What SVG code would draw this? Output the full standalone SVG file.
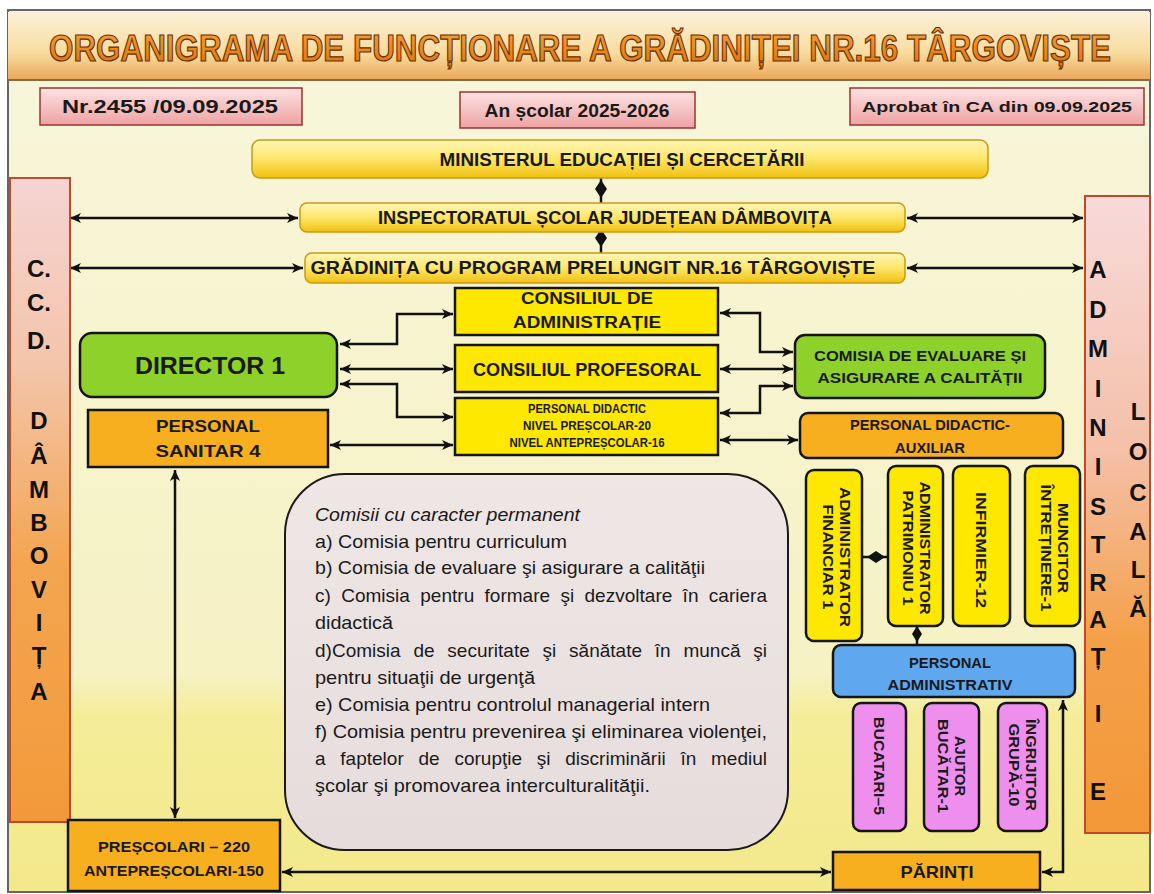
<svg xmlns="http://www.w3.org/2000/svg" width="1154" height="894" viewBox="0 0 1154 894">
<defs>
<linearGradient id="bg" x1="0" y1="0" x2="0" y2="1"><stop offset="0" stop-color="#f8f6dc"/><stop offset="0.75" stop-color="#f6f2c4"/><stop offset="0.8" stop-color="#f5ec9a"/><stop offset="1" stop-color="#f3e88a"/></linearGradient>
<linearGradient id="band" x1="0" y1="0" x2="0" y2="1"><stop offset="0" stop-color="#fbf1d8"/><stop offset="0.6" stop-color="#f8dca0"/><stop offset="1" stop-color="#eaa858"/></linearGradient>
<linearGradient id="hdr" x1="0" y1="0" x2="0" y2="1"><stop offset="0" stop-color="#fde2e2"/><stop offset="1" stop-color="#eea3a3"/></linearGradient>
<linearGradient id="bar" x1="0" y1="0" x2="0" y2="1"><stop offset="0" stop-color="#fff7b8"/><stop offset="0.5" stop-color="#fde66a"/><stop offset="1" stop-color="#f2c010"/></linearGradient>
<linearGradient id="side" x1="0" y1="0" x2="0" y2="1"><stop offset="0" stop-color="#f6d4d4"/><stop offset="0.3" stop-color="#f3c4a8"/><stop offset="0.6" stop-color="#f4a550"/><stop offset="1" stop-color="#f29a3a"/></linearGradient>
<linearGradient id="sideR" x1="0" y1="0" x2="0" y2="1"><stop offset="0" stop-color="#f8dada"/><stop offset="0.4" stop-color="#f4c0a8"/><stop offset="0.7" stop-color="#f4a048"/><stop offset="1" stop-color="#f29838"/></linearGradient>
<linearGradient id="com" x1="0" y1="0" x2="0" y2="1"><stop offset="0" stop-color="#efe6e6"/><stop offset="1" stop-color="#e6dcdc"/></linearGradient>
<linearGradient id="ttl" x1="0" y1="0" x2="0" y2="1"><stop offset="0" stop-color="#f6a640"/><stop offset="1" stop-color="#d8700e"/></linearGradient>
<marker id="ah" viewBox="0 0 12 12" refX="11" refY="6" markerWidth="12" markerHeight="12" markerUnits="userSpaceOnUse" orient="auto-start-reverse"><path d="M0,1 L11,6 L0,11 L3,6 z" fill="#111"/></marker>
<style>
.lbl{font-family:"Liberation Sans",Arial,sans-serif;font-weight:bold;fill:#1a1a1a;text-anchor:middle}
.side{font-family:"Liberation Sans",Arial,sans-serif;font-weight:bold;font-size:24px;fill:#111;text-anchor:middle}
.box{stroke:#151515;stroke-width:2.5}
.yel{fill:#ffe800}
.grn{fill:#8ed12b}
.org{fill:#f7ae1f}
.blu{fill:#5fa7ee}
.pnk{fill:#ee8fee}
.hdr{fill:url(#hdr);stroke:#a03030;stroke-width:1.5}
.bar{fill:url(#bar);stroke:#c99a10;stroke-width:1.5}
.con{fill:none;stroke:#111;stroke-width:2.5;marker-start:url(#ah);marker-end:url(#ah)}
.ln{fill:none;stroke:#111;stroke-width:2.5}
.txt{font-family:"Liberation Sans",Arial,sans-serif;font-size:19px;fill:#1a1a1a}
</style>
</defs>
<rect x="0" y="0" width="1154" height="894" fill="#ffffff"/>
<rect x="8" y="10" width="1142" height="882" fill="url(#bg)" stroke="#666" stroke-width="2"/>

<g id="title">
<rect x="8" y="12" width="1142" height="68" fill="url(#band)"/>
<line x1="8" y1="80" x2="1150" y2="80" stroke="#8a6a40" stroke-width="2"/>
<text transform="translate(580,61) scale(1,1.22)" x="0" y="0" font-family="Liberation Sans, Arial, sans-serif" font-weight="bold" font-size="31" fill="url(#ttl)" stroke="#6a2e00" stroke-width="1" text-anchor="middle" textLength="1062" lengthAdjust="spacingAndGlyphs">ORGANIGRAMA DE FUNCȚIONARE A GRĂDINIȚEI NR.16 TÂRGOVIȘTE</text>
</g>

<g id="hdr1"><rect class="hdr" x="40" y="88" width="262" height="37"/><text class="lbl" x="170" y="113" font-size="18" textLength="216" lengthAdjust="spacingAndGlyphs">Nr.2455 /09.09.2025</text></g>
<g id="hdr2"><rect class="hdr" x="460" y="92" width="235" height="36"/><text class="lbl" x="577" y="117" font-size="18" textLength="185" lengthAdjust="spacingAndGlyphs">An școlar 2025-2026</text></g>
<g id="hdr3"><rect class="hdr" x="850" y="88" width="294" height="37"/><text class="lbl" x="997" y="112" font-size="15" textLength="270" lengthAdjust="spacingAndGlyphs">Aprobat în CA din 09.09.2025</text></g>

<g id="connectors">
<line class="ln" x1="601" y1="178" x2="601" y2="203"/>
<polygon points="601,180 607,189 601,198 595,189" fill="#111"/>
<line class="ln" x1="601" y1="232" x2="601" y2="253"/>
<polygon points="601,229 607,238 601,247 595,238" fill="#111"/>
<path class="con" d="M70,218 H298"/>
<path class="con" d="M70,268 H303"/>
<path class="con" d="M907,218 H1083"/>
<path class="con" d="M907,268 H1083"/>
<path class="con" d="M340,344 H397 V314 H453"/>
<path class="con" d="M340,369 H453"/>
<path class="con" d="M340,384 H397 V417 H453"/>
<path class="con" d="M330,445 H453"/>
<path class="con" d="M720,313 H760 V352 H793"/>
<path class="con" d="M720,369 H793"/>
<path class="con" d="M720,413 H760 V386 H793"/>
<path class="con" d="M720,440 H798"/>
<path class="con" d="M175,470 V818"/>
<path class="con" d="M282,872 H831"/>
<path class="con" d="M1042,872 H1063 V700"/>
<line class="ln" x1="862" y1="557" x2="888" y2="557"/>
<polygon points="867,557 876,551 885,557 876,563" fill="#111"/>
<line class="ln" x1="917" y1="625" x2="917" y2="645"/>
<polygon points="917,626 922,634 917,642 912,634" fill="#111"/>
</g>

<g id="ministerul"><rect class="bar" x="252" y="140" width="736" height="38" rx="8"/><text class="lbl" x="622" y="166" font-size="18" textLength="365" lengthAdjust="spacingAndGlyphs">MINISTERUL EDUCAȚIEI ȘI CERCETĂRII</text></g>
<g id="isj"><rect class="bar" x="300" y="203" width="605" height="29" rx="7"/><text class="lbl" x="605" y="224" font-size="18" textLength="454" lengthAdjust="spacingAndGlyphs">INSPECTORATUL ȘCOLAR JUDEȚEAN DÂMBOVIȚA</text></g>
<g id="gradinita"><rect class="bar" x="305" y="253" width="600" height="30" rx="7"/><text class="lbl" x="593" y="274" font-size="18" textLength="565" lengthAdjust="spacingAndGlyphs">GRĂDINIȚA CU PROGRAM PRELUNGIT NR.16 TÂRGOVIȘTE</text></g>

<g id="ccd">
<rect x="10" y="178" width="60" height="644" fill="url(#side)" stroke="#c04a28" stroke-width="2"/>
<text class="side" x="39" y="277">C.</text>
<text class="side" x="39" y="311">C.</text>
<text class="side" x="39" y="349">D.</text>
<text class="side" x="39" y="429">D</text>
<text class="side" x="39" y="464">Â</text>
<text class="side" x="39" y="498">M</text>
<text class="side" x="39" y="531">B</text>
<text class="side" x="39" y="564">O</text>
<text class="side" x="39" y="598">V</text>
<text class="side" x="39" y="631">I</text>
<text class="side" x="39" y="664">Ț</text>
<text class="side" x="39" y="700">A</text>
</g>

<g id="adminlocala">
<rect x="1085" y="196" width="65" height="637" fill="url(#sideR)" stroke="#c04a28" stroke-width="2"/>
<text class="side" x="1098" y="278">A</text>
<text class="side" x="1098" y="318">D</text>
<text class="side" x="1098" y="357">M</text>
<text class="side" x="1098" y="397">I</text>
<text class="side" x="1098" y="436">N</text>
<text class="side" x="1098" y="475">I</text>
<text class="side" x="1098" y="515">S</text>
<text class="side" x="1098" y="553">T</text>
<text class="side" x="1098" y="591">R</text>
<text class="side" x="1098" y="628">A</text>
<text class="side" x="1098" y="665">Ț</text>
<text class="side" x="1098" y="722">I</text>
<text class="side" x="1098" y="800">E</text>
<text class="side" x="1138" y="420">L</text>
<text class="side" x="1138" y="460">O</text>
<text class="side" x="1138" y="501">C</text>
<text class="side" x="1138" y="540">A</text>
<text class="side" x="1138" y="578">L</text>
<text class="side" x="1138" y="617">Ă</text>
</g>

<g id="ca"><rect class="box yel" x="455" y="288" width="263" height="47"/><text class="lbl" x="587" y="304" font-size="16" textLength="132" lengthAdjust="spacingAndGlyphs">CONSILIUL DE</text><text class="lbl" x="587" y="328" font-size="16" textLength="148" lengthAdjust="spacingAndGlyphs">ADMINISTRAȚIE</text></g>
<g id="cp"><rect class="box yel" x="455" y="345" width="263" height="47"/><text class="lbl" x="587" y="376" font-size="19" textLength="228" lengthAdjust="spacingAndGlyphs">CONSILIUL PROFESORAL</text></g>
<g id="pd"><rect class="box yel" x="455" y="398" width="263" height="57"/><text class="lbl" x="587" y="413" font-size="12" textLength="118" lengthAdjust="spacingAndGlyphs">PERSONAL DIDACTIC</text><text class="lbl" x="587" y="430" font-size="12" textLength="128" lengthAdjust="spacingAndGlyphs">NIVEL PREȘCOLAR-20</text><text class="lbl" x="587" y="447" font-size="12" textLength="155" lengthAdjust="spacingAndGlyphs">NIVEL ANTEPREȘCOLAR-16</text></g>

<g id="director"><rect class="box grn" x="80" y="333" width="257" height="64" rx="12"/><text class="lbl" x="210" y="374" font-size="23" textLength="150" lengthAdjust="spacingAndGlyphs">DIRECTOR 1</text></g>
<g id="sanitar"><rect class="box org" x="88" y="410" width="240" height="57"/><text class="lbl" x="208" y="432" font-size="17" textLength="104" lengthAdjust="spacingAndGlyphs">PERSONAL</text><text class="lbl" x="208" y="457" font-size="17" textLength="105" lengthAdjust="spacingAndGlyphs">SANITAR 4</text></g>

<g id="ceac"><rect class="box grn" x="795" y="335" width="250" height="63" rx="10"/><text class="lbl" x="920" y="361" font-size="14" textLength="212" lengthAdjust="spacingAndGlyphs">COMISIA DE EVALUARE ȘI</text><text class="lbl" x="920" y="383" font-size="14" textLength="205" lengthAdjust="spacingAndGlyphs">ASIGURARE A CALITĂȚII</text></g>
<g id="pda"><rect class="box org" x="800" y="413" width="263" height="45" rx="8"/><text class="lbl" x="930" y="430" font-size="14" textLength="160" lengthAdjust="spacingAndGlyphs">PERSONAL DIDACTIC-</text><text class="lbl" x="930" y="453" font-size="14" textLength="70" lengthAdjust="spacingAndGlyphs">AUXILIAR</text></g>

<g id="admfin"><rect class="box yel" x="806" y="470" width="56" height="171" rx="8"/><g transform="translate(836,557) rotate(90)"><text class="lbl" x="0" y="-4" font-size="15" textLength="140" lengthAdjust="spacingAndGlyphs">ADMINISTRATOR</text><text class="lbl" x="0" y="13" font-size="15" textLength="105" lengthAdjust="spacingAndGlyphs">FINANCIAR 1</text></g></g>
<g id="admpat"><rect class="box yel" x="888" y="466" width="55" height="160" rx="8"/><g transform="translate(916,548) rotate(90)"><text class="lbl" x="0" y="-4" font-size="15" textLength="133" lengthAdjust="spacingAndGlyphs">ADMINISTRATOR</text><text class="lbl" x="0" y="13" font-size="15" textLength="115" lengthAdjust="spacingAndGlyphs">PATRIMONIU 1</text></g></g>
<g id="infirmier"><rect class="box yel" x="953" y="466" width="57" height="160" rx="8"/><g transform="translate(981,550) rotate(90)"><text class="lbl" x="0" y="5" font-size="15" textLength="116" lengthAdjust="spacingAndGlyphs">INFIRMIER-12</text></g></g>
<g id="muncitor"><rect class="box yel" x="1025" y="466" width="55" height="160" rx="8"/><g transform="translate(1054,548) rotate(90)"><text class="lbl" x="0" y="-4" font-size="15" textLength="90" lengthAdjust="spacingAndGlyphs">MUNCITOR</text><text class="lbl" x="0" y="13" font-size="15" textLength="127" lengthAdjust="spacingAndGlyphs">ÎNTREȚINERE-1</text></g></g>

<g id="persadmin"><rect class="box blu" x="833" y="645" width="242" height="52" rx="8"/><text class="lbl" x="950" y="668" font-size="14" textLength="82" lengthAdjust="spacingAndGlyphs">PERSONAL</text><text class="lbl" x="950" y="690" font-size="14" textLength="125" lengthAdjust="spacingAndGlyphs">ADMINISTRATIV</text></g>

<g id="bucatari"><rect class="box pnk" x="853" y="703" width="53" height="128" rx="8"/><g transform="translate(879,766) rotate(90)"><text class="lbl" x="0" y="5" font-size="15" textLength="98" lengthAdjust="spacingAndGlyphs">BUCATARI–5</text></g></g>
<g id="ajutor"><rect class="box pnk" x="924" y="703" width="55" height="128" rx="8"/><g transform="translate(951,766) rotate(90)"><text class="lbl" x="0" y="-4" font-size="15" textLength="60" lengthAdjust="spacingAndGlyphs">AJUTOR</text><text class="lbl" x="0" y="13" font-size="15" textLength="94" lengthAdjust="spacingAndGlyphs">BUCĂTAR-1</text></g></g>
<g id="ingrijitor"><rect class="box pnk" x="998" y="703" width="49" height="128" rx="8"/><g transform="translate(1022,765) rotate(90)"><text class="lbl" x="0" y="-4" font-size="15" textLength="92" lengthAdjust="spacingAndGlyphs">ÎNGRIJITOR</text><text class="lbl" x="0" y="13" font-size="15" textLength="83" lengthAdjust="spacingAndGlyphs">GRUPĂ-10</text></g></g>

<g id="parinti"><rect class="box org" x="833" y="852" width="207" height="38"/><text class="lbl" x="937" y="878" font-size="17" textLength="73" lengthAdjust="spacingAndGlyphs">PĂRINȚI</text></g>
<g id="prescolari"><rect class="box org" x="68" y="820" width="212" height="71"/><text class="lbl" x="174" y="852" font-size="15" textLength="152" lengthAdjust="spacingAndGlyphs">PREȘCOLARI – 220</text><text class="lbl" x="174" y="876" font-size="15" textLength="180" lengthAdjust="spacingAndGlyphs">ANTEPREȘCOLARI-150</text></g>

<g id="comisii">
<rect x="285" y="474" width="503" height="376" rx="60" fill="url(#com)" stroke="#1a1a1a" stroke-width="2"/>
<text class="txt" x="315" y="521" font-style="italic" textLength="265" lengthAdjust="spacingAndGlyphs">Comisii cu caracter permanent</text>
<text class="txt" x="315" y="548" textLength="252" lengthAdjust="spacingAndGlyphs">a) Comisia pentru curriculum</text>
<text class="txt" x="315" y="574" textLength="390" lengthAdjust="spacingAndGlyphs">b) Comisia de evaluare şi asigurare a calităţii</text>
<text class="txt" x="315" y="602" word-spacing="5" textLength="452" lengthAdjust="spacing">c) Comisia pentru formare şi dezvoltare în cariera</text>
<text class="txt" x="315" y="629" textLength="78" lengthAdjust="spacingAndGlyphs">didactică</text>
<text class="txt" x="315" y="657" word-spacing="7.5" textLength="452" lengthAdjust="spacing">d)Comisia de securitate şi sănătate în muncă şi</text>
<text class="txt" x="315" y="684" textLength="220" lengthAdjust="spacingAndGlyphs">pentru situaţii de urgenţă</text>
<text class="txt" x="315" y="711" textLength="395" lengthAdjust="spacingAndGlyphs">e) Comisia pentru controlul managerial intern</text>
<text class="txt" x="315" y="738" textLength="452" lengthAdjust="spacingAndGlyphs">f) Comisia pentru prevenirea şi eliminarea violenţei,</text>
<text class="txt" x="315" y="765" word-spacing="9.5" textLength="452" lengthAdjust="spacing">a faptelor de corupţie şi discriminării în mediul</text>
<text class="txt" x="315" y="792" textLength="335" lengthAdjust="spacingAndGlyphs">şcolar şi promovarea interculturalităţii.</text>
</g>
</svg>
